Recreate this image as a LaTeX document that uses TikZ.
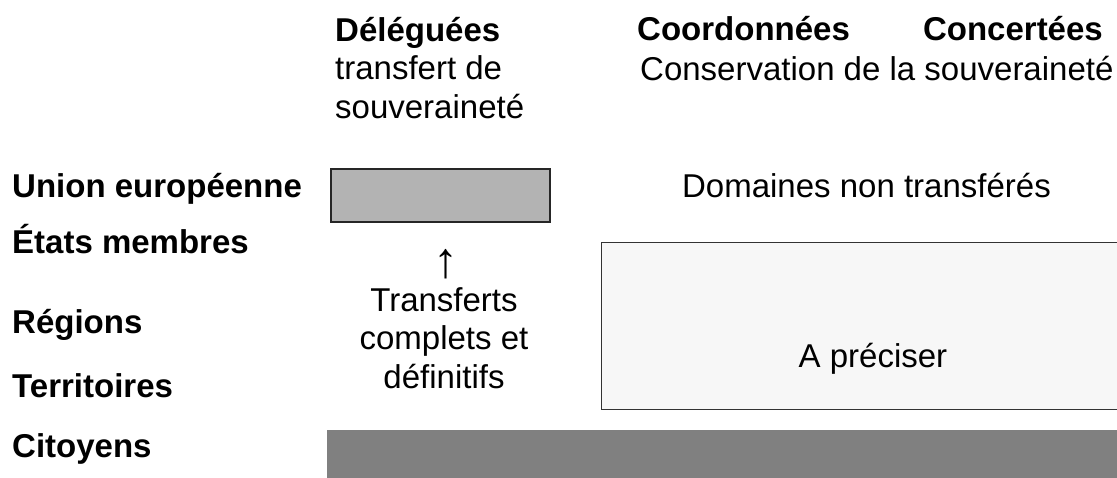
\documentclass[tikz,border=0pt]{standalone}
\usepackage{fontspec}
\setmainfont{Liberation Sans}
\usepackage{tikz}
\usetikzlibrary{positioning}
\usepackage{xcolor}
\definecolor{delegGray}{HTML}{B3B3B3}
\definecolor{zoneGray}{HTML}{F7F7F7}
\definecolor{citGray}{HTML}{808080}

\begin{document}
\begin{tikzpicture}[
    x=1pt, y=-1pt,
    lvl/.style={font=\bfseries\fontsize{33}{39}\selectfont, inner sep=0pt, anchor=base west},
    txt/.style={font=\fontsize{33}{38.5}\selectfont, inner sep=0pt},
    zone/.style={draw=black!85, line width=1.3pt, inner sep=0pt},
]
\useasboundingbox (0,0) rectangle (1117,477);

% niveaux
\node[lvl] (ue) at (12,197) {Union européenne};
\node[lvl] (etats) at (12,253) {États membres};
\node[lvl] (regions) at (12,333) {Régions};
\node[lvl] (terr) at (12,397) {Territoires};
\node[lvl] (citoyens) at (12,457) {Citoyens};

% colonnes (base = last line)
\node[txt, anchor=base west, align=left] (deleg) at (335,118) {\textbf{Déléguées}\\transfert de\\souveraineté};
\node[lvl] (coord) at (637,40) {Coordonnées};
\node[lvl, anchor=base east] (concert) at (1103,40) {Concertées};
\node[txt, anchor=base west] (conserv) at (640,80) {Conservation de la souveraineté};

% zones
\node[zone, fill=delegGray, minimum width=219pt, minimum height=53pt] (ueBox) at (440.5,195.5) {};
\node[txt, anchor=base] (nonTransf) at (866.5,197) {Domaines non transférés};
\node[txt, font=\fontsize{50}{50}\selectfont, anchor=base] (fleche) at (446,277) {↑};
\node[txt, anchor=base, align=center] (transf) at (444,388) {Transferts\\complets et\\définitifs};
\node[zone, fill=zoneGray, draw=black!80, line width=1pt, minimum width=544pt, minimum height=167pt] (aPreciser) at (873,325.5) {};
\node[txt, anchor=base] (precText) at (873,367) {A préciser};
\node[fill=citGray, inner sep=0pt, minimum width=800pt, minimum height=50pt, anchor=north west] (citBar) at (327,430) {};
\end{tikzpicture}
\end{document}
